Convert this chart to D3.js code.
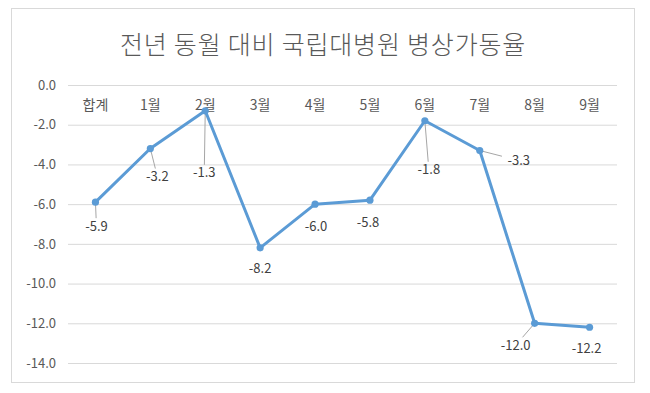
<!DOCTYPE html>
<html><head><meta charset="utf-8">
<script src="https://cdn.jsdelivr.net/npm/d3@7"></script>
<style>body{margin:0;background:#fff}svg{display:block}text{font-family:"Noto Sans CJK KR","Noto Sans",sans-serif}</style>
</head><body>
<svg id="c" width="650" height="393"></svg>
<script>
const title = "전년 동월 대비 국립대병원 병상가동율";
const categories = ["합계","1월","2월","3월","4월","5월","6월","7월","8월","9월"];
const values = [-5.9,-3.2,-1.3,-8.2,-6.0,-5.8,-1.8,-3.3,-12.0,-12.2];
const yTicks = [0,-2,-4,-6,-8,-10,-12,-14];

// label placement (layout only)
const labelDx = [1,7,-1,0,1,-2,4,39,-19,-3];
const labelDy = [24,28,62,21,22,22,49,10,22,21];
const hasLeader = [true,true,true,false,false,false,true,true,true,false];

const FONT = '"Noto Sans CJK KR","Noto Sans",sans-serif';
const fmt = d => d.toFixed(1);

const svg = d3.select("#c");
svg.append("rect").attr("x",11.5).attr("y",8.5).attr("width",623).attr("height",374)
  .attr("fill","#fff").attr("stroke","#d9d9d9");

svg.append("text").attr("x",323).attr("y",54).attr("text-anchor","middle")
  .attr("font-size",25).attr("font-weight",300).attr("letter-spacing",0.8)
  .attr("fill","#595959").text(title);

const m = {l:68, r:617, t:85, b:363};
const x = d3.scaleBand().domain(categories).range([m.l,m.r]);
const y = d3.scaleLinear().domain([0,-14]).range([m.t,m.b]);

const ya = svg.append("g").attr("transform",`translate(${m.l},0)`)
  .call(d3.axisLeft(y).tickValues(yTicks).tickSize(-(m.r-m.l)).tickPadding(12).tickFormat(fmt));
ya.select(".domain").remove();
ya.selectAll(".tick line").attr("stroke","#d9d9d9");
ya.selectAll(".tick text").attr("fill","#595959").attr("font-size",13).attr("font-family",FONT);

const xa = svg.append("g").attr("transform",`translate(0,${y(0)})`)
  .call(d3.axisBottom(x).tickSize(0).tickPadding(15));
xa.select(".domain").remove();
xa.selectAll(".tick text").attr("fill","#595959").attr("font-size",14).attr("font-family",FONT);

const cx = d => x(d)+x.bandwidth()/2;
const pts = categories.map((c,i)=>({c,v:values[i],i,px:cx(c),py:y(values[i])}));

pts.forEach(p=>{
  if(!hasLeader[p.i]) return;
  const lx = p.px+labelDx[p.i], ly = p.py+labelDy[p.i];
  const hw = fmt(p.v).length*3.7+2, hh = 8;
  const dx = p.px-lx, dy = p.py-ly;
  const t = Math.min(hw/Math.abs(dx||1e-9), hh/Math.abs(dy||1e-9));
  svg.append("line").attr("x1",p.px).attr("y1",p.py).attr("x2",lx+dx*t).attr("y2",ly+dy*t)
    .attr("stroke","#a6a6a6").attr("stroke-width",1);
});

svg.append("path").datum(pts)
  .attr("d",d3.line().x(d=>d.px).y(d=>d.py))
  .attr("fill","none").attr("stroke","#5b9bd5").attr("stroke-width",3).attr("stroke-linejoin","round");
svg.selectAll("circle.pt").data(pts).join("circle").attr("class","pt")
  .attr("cx",d=>d.px).attr("cy",d=>d.py).attr("r",3.6).attr("fill","#5b9bd5");

svg.selectAll("text.lbl").data(pts).join("text").attr("class","lbl")
  .attr("x",d=>d.px+labelDx[d.i]).attr("y",d=>d.py+labelDy[d.i])
  .attr("dy","0.35em").attr("text-anchor","middle")
  .attr("font-size",13).attr("fill","#404040").text(d=>fmt(d.v));
</script>
</body></html>
